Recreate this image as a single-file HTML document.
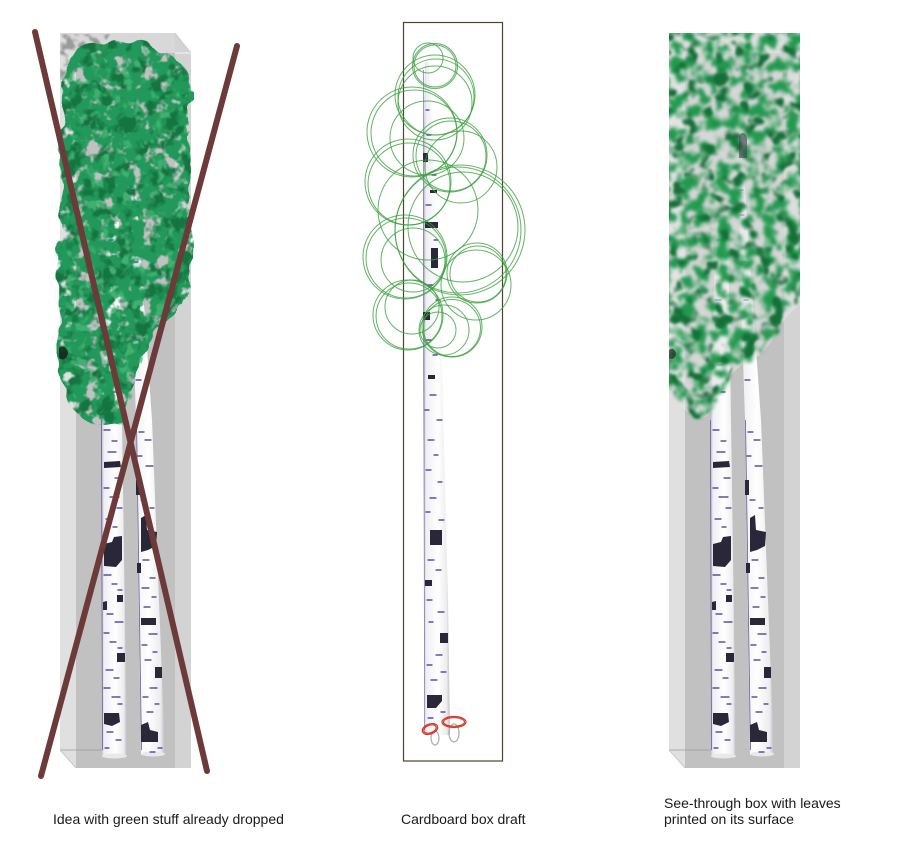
<!DOCTYPE html>
<html><head><meta charset="utf-8"><style>
html,body{margin:0;padding:0;background:#fff;}
svg{display:block;}
text{font-family:"Liberation Sans",sans-serif;font-size:14px;fill:#1a1a1a;}
</style></head><body>
<svg width="900" height="863" viewBox="0 0 900 863" xmlns="http://www.w3.org/2000/svg">
<defs>
  <clipPath id="clipR"><rect x="669" y="33" width="131" height="400"/></clipPath>
  <clipPath id="clipL"><rect x="50" y="30" width="144" height="410"/></clipPath>
  <linearGradient id="tg" x1="0" x2="1" y1="0" y2="0">
    <stop offset="0" stop-color="#b4afc6"/>
    <stop offset="0.12" stop-color="#efeff3"/>
    <stop offset="0.55" stop-color="#ffffff"/>
    <stop offset="0.88" stop-color="#ececee"/>
    <stop offset="1" stop-color="#b9b9c2"/>
  </linearGradient>
  <filter id="fBase" x="-10%" y="-10%" width="120%" height="120%" color-interpolation-filters="sRGB">
    <feTurbulence type="fractalNoise" baseFrequency="0.045" numOctaves="2" seed="3" result="d"/>
    <feDisplacementMap in="SourceGraphic" in2="d" scale="16" xChannelSelector="R" yChannelSelector="G" result="disp"/>
    <feTurbulence type="fractalNoise" baseFrequency="0.07" numOctaves="3" seed="2"/>
    <feColorMatrix type="matrix" values="0 0 0 0 0 0 0 0 0 0 0 0 0 0 0 7 0 0 0 -2.2"/>
    <feComposite in="disp" operator="in"/>
  </filter>
  <filter id="fDark" x="-10%" y="-10%" width="120%" height="120%" color-interpolation-filters="sRGB">
    <feTurbulence type="fractalNoise" baseFrequency="0.045" numOctaves="2" seed="3" result="d"/>
    <feDisplacementMap in="SourceGraphic" in2="d" scale="16" xChannelSelector="R" yChannelSelector="G" result="disp"/>
    <feTurbulence type="fractalNoise" baseFrequency="0.06" numOctaves="3" seed="9"/>
    <feColorMatrix type="matrix" values="0 0 0 0 0 0 0 0 0 0 0 0 0 0 0 6 0 0 0 -3.0"/>
    <feComposite in="disp" operator="in"/>
  </filter>
  <filter id="fLight" x="0" y="0" width="1" height="1" color-interpolation-filters="sRGB">
    <feTurbulence type="fractalNoise" baseFrequency="0.09" numOctaves="2" seed="4"/>
    <feColorMatrix type="matrix" values="0 0 0 0 0 0 0 0 0 0 0 0 0 0 0 6 0 0 0 -3.4"/>
    <feComposite in="SourceGraphic" operator="in"/>
  </filter>
  <filter id="fGray" x="0" y="0" width="1" height="1" color-interpolation-filters="sRGB">
    <feTurbulence type="fractalNoise" baseFrequency="0.12" numOctaves="2" seed="6"/>
    <feColorMatrix type="matrix" values="0 0 0 0 0 0 0 0 0 0 0 0 0 0 0 5 0 0 0 -2.2"/>
    <feComposite in="SourceGraphic" operator="in"/>
    <feGaussianBlur stdDeviation="0.8"/>
  </filter>
  <filter id="fRight" x="-10%" y="-10%" width="120%" height="120%" color-interpolation-filters="sRGB">
    <feTurbulence type="fractalNoise" baseFrequency="0.04" numOctaves="2" seed="5" result="d"/>
    <feDisplacementMap in="SourceGraphic" in2="d" scale="14" xChannelSelector="R" yChannelSelector="G" result="disp"/>
    <feTurbulence type="fractalNoise" baseFrequency="0.085" numOctaves="3" seed="13"/>
    <feColorMatrix type="matrix" values="0 0 0 0 0 0 0 0 0 0 0 0 0 0 0 5 0 0 0 -2.1"/>
    <feComposite in="disp" operator="in"/>
    <feGaussianBlur stdDeviation="1.5"/>
  </filter>
  <filter id="fRight2" x="-10%" y="-10%" width="120%" height="120%" color-interpolation-filters="sRGB">
    <feTurbulence type="fractalNoise" baseFrequency="0.04" numOctaves="2" seed="5" result="d"/>
    <feDisplacementMap in="SourceGraphic" in2="d" scale="14" xChannelSelector="R" yChannelSelector="G" result="disp"/>
    <feTurbulence type="fractalNoise" baseFrequency="0.07" numOctaves="2" seed="21"/>
    <feColorMatrix type="matrix" values="0 0 0 0 0 0 0 0 0 0 0 0 0 0 0 6 0 0 0 -3.2"/>
    <feComposite in="disp" operator="in"/>
    <feGaussianBlur stdDeviation="1.0"/>
  </filter>

  <!-- box (left panel coordinates) -->
  <g id="box">
    <polygon points="60,33 175,33 191,53 76,53" fill="#d8d8d8"/>
    <polygon points="60,33 76,53 76,768 60,750" fill="#e0e0e0"/>
    <rect x="76" y="53" width="99" height="715" fill="#c1c1c1"/>
    <polygon points="175,33 191,53 191,768 175,768" fill="#d3d3d3"/>
    <polygon points="60,750 76,768 60,768" fill="#fff"/>
    <line x1="60" y1="750" x2="112" y2="750" stroke="#9a9a9a" stroke-width="0.7"/>
    <line x1="60" y1="750" x2="76" y2="768" stroke="#bdbdbd" stroke-width="0.7"/>
    <line x1="175" y1="53" x2="191" y2="53" stroke="#f4f4f4" stroke-width="1"/>
    <line x1="175" y1="33" x2="191" y2="53" stroke="#c8c8c8" stroke-width="0.7"/>
  </g>

  <!-- trunks (left panel coordinates) -->
  <g id="trunks">
    <polygon points="107,222 119,222 122,420 127,757 102,757 101,420" fill="url(#tg)"/>
    <ellipse cx="114.5" cy="756" rx="12.5" ry="2.5" fill="#e9e9e9"/>
    <polygon points="128,175 135,175 152,420 165,755 141,755 136,420" fill="url(#tg)"/>
    <ellipse cx="153" cy="754" rx="12" ry="2.5" fill="#e9e9e9"/>
    <line x1="101.5" y1="420" x2="102.5" y2="750" stroke="#6a5a96" stroke-width="0.8"/>
    <line x1="136.5" y1="420" x2="141.5" y2="750" stroke="#6a5a96" stroke-width="0.8"/>
    <g fill="#2a2838">
      <path d="M104,462 L120,461 L121,467 L104,468 Z"/>
      <path d="M104,544 L112,542 L114,537 L122,536 L122,560 L116,567 L104,566 Z"/>
      <path d="M103,602 L107,601 L107,610 L103,610 Z"/>
      <path d="M117,595 L123,595 L123,602 L117,602 Z"/>
      <path d="M117,653 L125,653 L125,662 L117,662 Z"/>
      <path d="M104,713 L119,713 L120,722 L112,726 L104,724 Z"/>
      <path d="M136,480 L140,480 L140,495 L136,495 Z"/>
      <path d="M141,518 L146,515 L147,530 L157,532 L156,546 L148,550 L141,552 Z"/>
      <path d="M137,563 L141,563 L141,573 L137,573 Z"/>
      <path d="M141,618 L156,618 L156,625 L141,625 Z"/>
      <path d="M155,667 L162,667 L162,678 L155,678 Z"/>
      <path d="M141,725 L148,722 L150,730 L158,732 L158,742 L141,742 Z"/>
    </g>
    <g stroke="#3b2e96" stroke-width="1.2" stroke-linecap="round">
      <path d="M104,430h6M112,441h5M108,452h8M115,478h6M104,488h5M110,497h9M117,508h5M106,519h6M113,527h4M104,575h7M112,584h5M118,590h4M107,614h6M115,622h8M104,633h5M110,642h6M118,648h4M106,670h7M114,678h5M104,688h6M112,697h8M118,704h4M107,732h6M116,740h5M105,748h4M108,240h5M112,256h4M106,300h6M113,318h5M108,365h6M111,392h5"/>
      <path d="M139,432h5M145,440h6M138,456h4M146,466h7M141,500h5M150,508h4M143,560h6M150,578h5M142,588h7M152,597h4M144,607h6M149,634h8M142,645h5M153,652h4M145,660h6M150,688h7M143,697h5M155,704h4M147,712h6M158,748h4M150,752h5M130,190h4M131,215h4M133,262h5M135,300h4M134,340h6M136,380h5"/>
    </g>
  </g>
</defs>

<!-- ============ LEFT PANEL ============ -->
<use href="#box"/>
<use href="#trunks"/>
<path filter="url(#fGray)" fill="#9a9a9a" d="M60,34 L110,34 L100,50 L80,62 L72,80 L60,80 Z"/>

<g clip-path="url(#clipL)">
<path filter="url(#fBase)" fill="#22995a" d="M64,80 C66,62 76,46 92,42 C120,38 150,42 176,56 C188,70 192,90 190,120 L192,200 C194,260 192,290 186,305 C170,312 155,325 146,345 C136,370 131,400 126,423 C110,429 90,426 78,416 C65,400 58,380 58,350 C57,300 60,250 60,200 Z"/>
<path filter="url(#fDark)" fill="#157540" d="M64,80 C66,62 76,46 92,42 C120,38 150,42 176,56 C188,70 192,90 190,120 L192,200 C194,260 192,290 186,305 C170,312 155,325 146,345 C136,370 131,400 126,423 C110,429 90,426 78,416 C65,400 58,380 58,350 C57,300 60,250 60,200 Z"/>
<path filter="url(#fLight)" fill="#3fb070" d="M70,70 C80,48 120,42 170,58 L186,120 L186,290 L150,330 L130,410 L85,415 L64,380 Z"/>
</g>
<path d="M59,348 C62,345 67,347 68,353 C67,359 62,361 59,358 Z" fill="#1a1a1a" fill-opacity="0.8"/>

<!-- red cross -->
<g stroke="#6d3a3a" stroke-width="6" stroke-linecap="round" fill="none">
  <line x1="35" y1="32" x2="207" y2="771"/>
  <line x1="237" y1="46" x2="41" y2="776"/>
</g>

<!-- ============ MIDDLE PANEL ============ -->
<rect x="403.5" y="22.5" width="99" height="738.5" fill="none" stroke="#4d4330" stroke-width="1.2"/>
<polygon points="425,62 429,62 436,200 442,365 448,600 450,735 425,735 423,365 423,200" fill="url(#tg)"/>
<line x1="423.5" y1="70" x2="424.5" y2="730" stroke="#7a6fb0" stroke-width="0.7"/>
<g fill="#2a2838">
  <path d="M423,153h5v9h-5z"/>
  <path d="M430,190h7v3h-7z"/>
  <path d="M425,222h13v6h-13z"/>
  <path d="M431,248h7v20h-7z"/>
  <path d="M423,312h7v8h-7z"/>
  <path d="M428,375h7v4h-7z"/>
  <path d="M430,530h12v15h-12z"/>
  <path d="M425,580h7v6h-7z"/>
  <path d="M440,633h8v10h-8z"/>
  <path d="M427,695h15v6l-6,7h-9z"/>
</g>
<g stroke="#3b2e96" stroke-width="1.2" stroke-linecap="round">
  <path d="M426,110h3M427,135h4M432,175h4M426,205h5M434,240h4M428,285h5M436,300h4M426,340h5M433,355h4M430,395h6M425,410h4M437,420h5M428,440h6M434,455h4M426,470h5M438,482h4M430,498h6M426,512h4M439,520h5M428,560h6M436,570h5M427,600h5M438,612h6M429,622h4M436,655h6M427,665h5M441,672h5M431,680h6M428,718h5M441,712h4"/>
</g>
<g fill="none" stroke="#b0b0b0" stroke-width="1.3">
  <ellipse cx="435" cy="738" rx="4" ry="7"/>
  <ellipse cx="454" cy="733" rx="5" ry="9"/>
</g>
<g fill="none" stroke="#d03a2a" stroke-width="1.2">
  <ellipse cx="430" cy="729" rx="8" ry="5" transform="rotate(-20 430 729)"/>
  <ellipse cx="430" cy="729" rx="6.5" ry="3.8" transform="rotate(-20 430 729)"/>
  <ellipse cx="454" cy="722" rx="12" ry="5.5"/>
  <ellipse cx="454" cy="722" rx="10.5" ry="4.3"/>
</g>
<g fill="none" stroke="#3ba03f" stroke-width="1" stroke-opacity="0.8">
  <circle cx="428" cy="58" r="15"/>
  <circle cx="435" cy="66" r="21"/><circle cx="435" cy="66" r="22.5"/>
  <circle cx="435" cy="95" r="40"/><circle cx="436" cy="97" r="38"/>
  <circle cx="435" cy="103" r="37"/>
  <circle cx="412" cy="132" r="45"/><circle cx="414" cy="133" r="43"/>
  <circle cx="427" cy="138" r="37"/>
  <circle cx="450" cy="155" r="37"/><circle cx="451" cy="156" r="35"/>
  <circle cx="461" cy="167" r="36"/>
  <circle cx="408" cy="182" r="43"/><circle cx="409" cy="184" r="41"/>
  <circle cx="428" cy="210" r="50"/>
  <circle cx="460" cy="230" r="65"/><circle cx="458" cy="230" r="63"/>
  <circle cx="463" cy="227" r="55"/>
  <circle cx="405" cy="257" r="42"/><circle cx="406" cy="258" r="40"/>
  <circle cx="413" cy="260" r="32"/>
  <circle cx="477" cy="273" r="30"/><circle cx="478" cy="274" r="28"/>
  <circle cx="476" cy="285" r="35"/>
  <circle cx="408" cy="315" r="35"/><circle cx="409" cy="316" r="33"/>
  <circle cx="412" cy="307" r="27"/>
  <circle cx="444" cy="330" r="25"/>
  <circle cx="452" cy="327" r="30"/><circle cx="452" cy="328" r="28.5"/>
  <circle cx="438" cy="330" r="18"/>
</g>

<!-- ============ RIGHT PANEL ============ -->
<use href="#box" x="609"/>
<use href="#trunks" x="609"/>
<g clip-path="url(#clipR)">
<path fill="#e6e6e6" fill-opacity="0.6" d="M660,25 L810,25 L808,300 C795,306 785,318 778,330 C770,345 760,358 748,362 C735,366 722,385 716,405 C712,415 705,420 695,418 C685,412 678,400 670,390 L660,380 Z"/>
<path filter="url(#fRight)" fill="#22994f" d="M660,25 L810,25 L808,300 C795,306 785,318 778,330 C770,345 760,358 748,362 C735,366 722,385 716,405 C712,415 705,420 695,418 C685,412 678,400 670,390 L660,380 Z"/>
<path filter="url(#fRight2)" fill="#157038" d="M660,25 L810,25 L808,300 C795,306 785,318 778,330 C770,345 760,358 748,362 C735,366 722,385 716,405 C712,415 705,420 695,418 C685,412 678,400 670,390 L660,380 Z"/>
</g>
<path d="M739,136 C742,131 746,132 747,139 L747,158 L739,158 Z" fill="#3a3f4a" fill-opacity="0.6"/>
<path d="M669,350 C672,347 675,349 676,354 C675,359 672,360 669,358 Z" fill="#222" fill-opacity="0.7"/>

<!-- labels -->
<text x="53" y="824">Idea with green stuff already dropped</text>
<text x="401" y="824">Cardboard box draft</text>
<text x="664" y="808">See-through box with leaves</text>
<text x="664" y="824">printed on its surface</text>
</svg>
</body></html>
